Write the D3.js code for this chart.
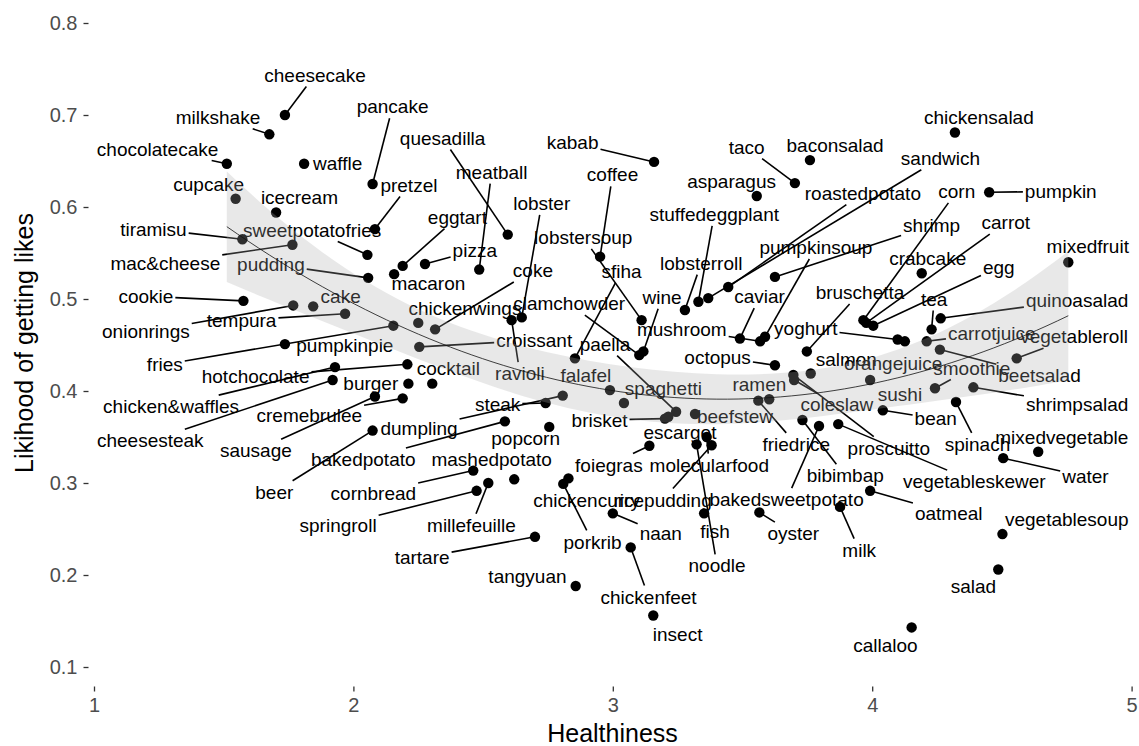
<!DOCTYPE html>
<html><head><meta charset="utf-8">
<script src="https://cdn.jsdelivr.net/npm/d3@7"></script>
<style>
body{margin:0;background:#fff}
svg{display:block}
text{font-family:"Liberation Sans",Arial,Helvetica,sans-serif}
</style>
</head><body>
<svg id="chart" width="1139" height="746"></svg>
<script>
const foods = ["cheesecake","milkshake","pancake","chocolatecake","waffle","quesadilla","meatball","kabab","coffee","taco",
"baconsalad","chickensalad","sandwich","corn","pumpkin","cupcake","icecream","pretzel","eggtart","lobster",
"asparagus","roastedpotato","stuffedeggplant","shrimp","carrot","tiramisu","sweetpotatofries","pizza","lobstersoup","pumpkinsoup",
"crabcake","egg","mixedfruit","mac&cheese","pudding","macaron","coke","lobsterroll","caviar","bruschetta",
"tea","quinoasalad","cookie","cake","chickenwings","clamchowder","wine","mushroom","yoghurt","carrotjuice",
"vegetableroll","tempura","onionrings","croissant","sfiha","paella","octopus","salmon","orangejuice","smoothie",
"beetsalad","fries","pumpkinpie","ravioli","falafel","spaghetti","ramen","sushi","shrimpsalad","hotchocolate",
"cocktail","burger","chicken&waffles","cremebrulee","steak","brisket","beefstew","coleslaw","bean","spinach",
"mixedvegetable","cheesesteak","sausage","dumpling","escargot","friedrice","proscuitto","bakedpotato","popcorn","mashedpotato",
"foiegras","molecularfood","bibimbap","vegetableskewer","water","beer","cornbread","chickencurry","ricepudding","bakedsweetpotato",
"oatmeal","springroll","millefeuille","naan","fish","oyster","milk","vegetablesoup","tartare","porkrib",
"noodle","tangyuan","chickenfeet","salad","insect","callaloo"];

const healthiness = [1.736,1.676,2.074,1.512,1.810,2.595,2.485,3.159,2.951,3.702,
3.760,4.319,3.368,3.966,4.451,1.546,1.702,2.083,2.190,2.649,
3.555,3.445,3.330,3.625,3.977,1.572,2.054,2.276,3.111,3.587,
4.191,4.004,4.756,1.765,2.057,2.157,2.315,3.278,3.490,3.748,
4.229,4.264,1.576,1.845,2.250,3.102,3.118,3.568,4.098,4.210,
4.557,1.968,1.768,2.254,2.854,3.244,3.625,3.763,4.126,4.242,
4.261,2.154,1.736,2.610,2.989,3.043,3.603,3.992,4.390,2.208,
2.304,2.212,1.929,2.190,2.741,3.201,3.317,3.699,4.041,4.323,
4.640,1.920,2.083,2.807,3.214,3.561,3.696,2.584,2.755,2.620,
3.141,3.362,3.731,3.869,4.505,2.074,2.462,2.829,3.381,3.795,
3.992,2.475,2.520,3.000,3.352,3.565,3.876,4.502,2.700,2.809,
3.323,2.857,3.069,4.486,3.156,4.152];

const likes = [0.700,0.679,0.625,0.647,0.647,0.570,0.532,0.649,0.546,0.626,
0.651,0.681,0.501,0.477,0.616,0.609,0.594,0.576,0.536,0.480,
0.612,0.513,0.497,0.524,0.474,0.565,0.548,0.538,0.477,0.459,
0.528,0.471,0.540,0.559,0.523,0.527,0.467,0.488,0.457,0.443,
0.467,0.479,0.498,0.492,0.474,0.439,0.443,0.454,0.456,0.454,
0.4355,0.484,0.493,0.448,0.4355,0.3775,0.428,0.419,0.454,0.403,
0.445,0.471,0.451,0.477,0.401,0.387,0.391,0.412,0.404,0.429,
0.408,0.408,0.426,0.392,0.387,0.370,0.375,0.412,0.379,0.388,
0.334,0.412,0.394,0.395,0.372,0.3895,0.4175,0.367,0.361,0.304,
0.3405,0.350,0.3685,0.364,0.327,0.357,0.3135,0.305,0.341,0.362,
0.2915,0.2915,0.300,0.267,0.267,0.268,0.274,0.2445,0.2415,0.299,
0.342,0.188,0.230,0.206,0.156,0.143];

const labelX = [1.852,1.478,2.151,1.245,1.939,2.344,2.533,2.845,2.999,3.516,
3.857,4.411,4.263,4.326,4.727,1.442,1.792,2.214,2.401,2.726,
3.458,3.964,3.391,4.229,4.515,1.229,1.841,2.468,2.886,3.783,
4.214,4.488,4.831,1.275,1.682,2.289,2.692,3.341,3.566,3.953,
4.239,4.790,1.200,1.951,2.430,2.832,3.190,3.266,3.744,4.461,
4.778,1.569,1.200,2.697,3.034,2.970,3.404,3.900,4.081,4.384,
4.645,1.273,1.967,2.642,2.896,3.195,3.565,4.107,4.790,1.623,
2.366,2.067,1.297,1.830,2.556,2.949,3.471,3.864,4.245,4.406,
4.731,1.217,1.624,2.253,3.259,3.707,4.064,2.038,2.664,2.533,
2.985,3.372,3.896,4.394,4.822,1.695,2.077,2.899,3.192,3.670,
4.295,1.941,2.455,3.185,3.394,3.696,3.950,4.750,2.265,2.922,
3.402,2.671,3.138,4.390,3.250,4.051];

const labelY = [0.7435,0.6975,0.709,0.663,0.6475,0.675,0.638,0.670,0.635,0.665,
0.667,0.6975,0.653,0.617,0.617,0.625,0.6105,0.624,0.589,0.604,
0.6275,0.615,0.592,0.580,0.583,0.576,0.575,0.553,0.567,0.556,
0.544,0.5345,0.557,0.539,0.538,0.517,0.531,0.539,0.5025,0.507,
0.500,0.499,0.503,0.503,0.490,0.495,0.502,0.467,0.468,0.463,
0.459,0.477,0.4645,0.455,0.530,0.451,0.437,0.4345,0.430,0.425,
0.417,0.429,0.450,0.419,0.417,0.403,0.407,0.396,0.385,0.416,
0.425,0.408,0.383,0.374,0.3855,0.3685,0.372,0.385,0.370,0.342,
0.350,0.346,0.335,0.3595,0.355,0.342,0.338,0.3255,0.3485,0.326,
0.3195,0.3195,0.308,0.3015,0.307,0.290,0.289,0.2815,0.2815,0.282,
0.267,0.254,0.254,0.245,0.247,0.245,0.227,0.260,0.219,0.236,
0.210,0.199,0.176,0.188,0.136,0.124];

const xTicks = [1, 2, 3, 4, 5];
const yTicks = [0.1, 0.2, 0.3, 0.4, 0.5, 0.6, 0.7, 0.8];
const xTitle = "Healthiness";
const yTitle = "Likihood of getting likes";

const FONT = '"Liberation Sans",Arial,Helvetica,sans-serif';
const svg = d3.select("#chart");
const x = d3.scaleLinear().domain([1, 5]).range([94, 1131.6]);
const y = d3.scaleLinear().domain([0.1, 0.8]).range([667, 23]);
const idx = d3.range(foods.length);

// ---- quadratic least-squares smooth (y ~ poly(x, 2)) with 95% band ----
function inv3(m) {
  const M = m.map((r, i) => r.concat([0, 1, 2].map(j => (i === j ? 1 : 0))));
  for (let c = 0; c < 3; c++) {
    let p = c;
    for (let r = c + 1; r < 3; r++) if (Math.abs(M[r][c]) > Math.abs(M[p][c])) p = r;
    [M[c], M[p]] = [M[p], M[c]];
    const piv = M[c][c];
    for (let k = 0; k < 6; k++) M[c][k] /= piv;
    for (let r = 0; r < 3; r++) {
      if (r === c) continue;
      const f = M[r][c];
      for (let k = 0; k < 6; k++) M[r][k] -= f * M[c][k];
    }
  }
  return M.map(r => r.slice(3));
}
const n = healthiness.length;
const xm = d3.mean(healthiness);
const basis = v => { const u = v - xm; return [1, u, u * u]; };
const XtX = [[0,0,0],[0,0,0],[0,0,0]], Xty = [0, 0, 0];
healthiness.forEach((v, i) => {
  const b = basis(v);
  for (let a = 0; a < 3; a++) {
    Xty[a] += b[a] * likes[i];
    for (let c = 0; c < 3; c++) XtX[a][c] += b[a] * b[c];
  }
});
const XtXi = inv3(XtX);
const beta = XtXi.map(r => d3.sum(r, (v, k) => v * Xty[k]));
const predict = v => d3.sum(basis(v), (b, k) => b * beta[k]);
const rss = d3.sum(healthiness, (v, i) => (likes[i] - predict(v)) ** 2);
const df = n - 3;
const sigma = Math.sqrt(rss / df);
const z = 1.959964;
const tq = z + (z**3 + z) / (4 * df) + (5 * z**5 + 16 * z**3 + 3 * z) / (96 * df**2)
         + (3 * z**7 + 19 * z**5 + 17 * z**3 - 15 * z) / (384 * df**3);
const [xmin, xmax] = d3.extent(healthiness);
const smooth = d3.range(80).map(k => {
  const x0 = xmin + k * (xmax - xmin) / 79;
  const b = basis(x0);
  let q = 0;
  for (let a = 0; a < 3; a++) for (let c = 0; c < 3; c++) q += b[a] * XtXi[a][c] * b[c];
  const fit = predict(x0), se = sigma * Math.sqrt(q);
  return { x: x0, fit, lo: fit - tq * se, hi: fit + tq * se };
});

// ---- layers: points, segments, labels, smooth ----
const gPts = svg.append("g");
gPts.selectAll("circle").data(idx).join("circle")
  .attr("cx", i => x(healthiness[i])).attr("cy", i => y(likes[i]))
  .attr("r", 5.2).attr("fill", "#000");

const gSeg = svg.append("g");
const gLab = svg.append("g");
const labs = gLab.selectAll("text").data(idx).join("text")
  .attr("x", i => x(labelX[i])).attr("y", i => y(labelY[i]))
  .attr("dy", "0.35em").attr("text-anchor", "middle")
  .attr("font-size", 19).attr("fill", "#000").style("font-family", FONT)
  .text(i => foods[i]);

const segs = [];
labs.each(function(i) {
  const hw = this.getComputedTextLength() / 2 + 2, hh = 9.5 + 2;
  const px = x(healthiness[i]), py = y(likes[i]);
  const cx = x(labelX[i]), cy = y(labelY[i]);
  const dx = cx - px, dy = cy - py;
  let t = 0;
  if (Math.abs(px - cx) > hw) t = Math.max(t, (Math.abs(px - cx) - hw) / Math.abs(dx));
  if (Math.abs(py - cy) > hh) t = Math.max(t, (Math.abs(py - cy) - hh) / Math.abs(dy));
  const len = t * Math.hypot(dx, dy);
  if (len > 14) segs.push({ x1: px, y1: py, x2: px + t * dx, y2: py + t * dy });
});
gSeg.selectAll("line").data(segs).join("line")
  .attr("x1", d => d.x1).attr("y1", d => d.y1).attr("x2", d => d.x2).attr("y2", d => d.y2)
  .attr("stroke", "#000").attr("stroke-width", 1.6);

svg.append("path").datum(smooth)
  .attr("d", d3.area().x(d => x(d.x)).y0(d => y(d.lo)).y1(d => y(d.hi)))
  .attr("fill", "#aaaaaa").attr("fill-opacity", 0.27);
svg.append("path").datum(smooth)
  .attr("d", d3.line().x(d => x(d.x)).y(d => y(d.fit)))
  .attr("fill", "none").attr("stroke", "#111").attr("stroke-width", 0.8);

// ---- axes ----
const yAxis = d3.axisLeft(y).tickValues(yTicks).tickSize(5).tickPadding(6).tickFormat(d3.format(".1f"));
svg.append("g").attr("transform", "translate(88.5,0)").call(yAxis)
  .attr("font-family", FONT).attr("font-size", 20)
  .call(g => g.select(".domain").remove())
  .call(g => g.selectAll("line").attr("stroke", "#333").attr("stroke-width", 1.3))
  .call(g => g.selectAll("text").attr("fill", "#4d4d4d"));

const xAxis = d3.axisBottom(x).tickValues(xTicks).tickSize(5).tickPadding(6).tickFormat(d3.format("d"));
svg.append("g").attr("transform", "translate(0,686.5)").call(xAxis)
  .attr("font-family", FONT).attr("font-size", 20)
  .call(g => g.select(".domain").remove())
  .call(g => g.selectAll("line").attr("stroke", "#333").attr("stroke-width", 1.3))
  .call(g => g.selectAll("text").attr("fill", "#4d4d4d"));

svg.append("text").attr("x", 612.5).attr("y", 742)
  .attr("text-anchor", "middle").attr("font-size", 25).attr("fill", "#000")
  .style("font-family", FONT).text(xTitle);
svg.append("text").attr("transform", "translate(33,343) rotate(-90)")
  .attr("text-anchor", "middle").attr("font-size", 25).attr("fill", "#000")
  .style("font-family", FONT).text(yTitle);
</script>
</body></html>
